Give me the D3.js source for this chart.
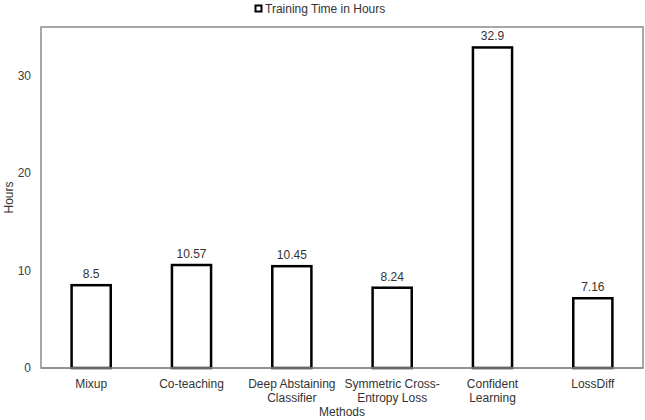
<!DOCTYPE html>
<html><head><meta charset="utf-8">
<script src="https://cdn.jsdelivr.net/npm/d3@7"></script>
<style>body{margin:0;background:#fff}svg{display:block}text{font-family:"Liberation Sans",Arial,sans-serif}</style>
</head><body>
<script>
const categories = [["Mixup"],["Co-teaching"],["Deep Abstaining","Classifier"],["Symmetric Cross-","Entropy Loss"],["Confident","Learning"],["LossDiff"]];
const values = [8.5, 10.57, 10.45, 8.24, 32.9, 7.16];
const valueLabels = ["8.5","10.57","10.45","8.24","32.9","7.16"];
const yTicks = [0, 10, 20, 30];
const seriesName = "Training Time in Hours";

const W = 645, H = 420;
const m = {left: 41, right: 2, top: 27, bottom: 52};
const svg = d3.select("body").append("svg").attr("width", W).attr("height", H);
const x = d3.scaleBand().domain(d3.range(categories.length)).range([m.left, W - m.right]).paddingInner(0.61).paddingOuter(0.305);
const y = d3.scaleLinear().domain([0, 35]).range([H - m.bottom, m.top]);

// frame
svg.append("rect").attr("x", m.left).attr("y", m.top).attr("width", W - m.right - m.left).attr("height", H - m.bottom - m.top)
  .attr("fill", "none").attr("stroke", "#8a8a8a").attr("stroke-width", 1.5);

// y axis
const ya = svg.append("g").attr("transform", `translate(${m.left},0)`)
  .call(d3.axisLeft(y).tickValues(yTicks).tickSize(0).tickPadding(10));
ya.select(".domain").remove();
ya.selectAll("text").attr("font-size", 12).attr("fill", "#404040").style("font-family", "Liberation Sans, Arial, sans-serif");

// bars
svg.selectAll(".bar").data(values).join("rect")
  .attr("x", (d, i) => x(i)).attr("width", x.bandwidth())
  .attr("y", d => y(d)).attr("height", d => y(0) - y(d))
  .attr("fill", "#fff").attr("stroke", "#000").attr("stroke-width", 2.5);

// value labels
svg.selectAll(".vl").data(values).join("text")
  .attr("x", (d, i) => x(i) + x.bandwidth() / 2).attr("y", d => y(d) - 7)
  .attr("text-anchor", "middle").attr("font-size", 12).attr("fill", "#333")
  .text((d, i) => valueLabels[i]);

// baseline
svg.append("line").attr("x1", m.left).attr("x2", W - m.right).attr("y1", y(0)).attr("y2", y(0))
  .attr("stroke", "#8a8a8a").attr("stroke-width", 1.5);

// category labels
categories.forEach((lines, i) => {
  const t = svg.append("text").attr("x", x(i) + x.bandwidth() / 2).attr("y", y(0) + 20)
    .attr("text-anchor", "middle").attr("font-size", 12).attr("fill", "#333");
  lines.forEach((l, j) => t.append("tspan").attr("x", x(i) + x.bandwidth() / 2).attr("dy", j ? 14 : 0).text(l));
});

// axis titles
svg.append("text").attr("x", (m.left + W - m.right) / 2).attr("y", 416).attr("text-anchor", "middle")
  .attr("font-size", 12).attr("fill", "#333").text("Methods");
svg.append("text").attr("transform", `translate(13,${(m.top + H - m.bottom) / 2}) rotate(-90)`).attr("text-anchor", "middle")
  .attr("font-size", 12).attr("fill", "#333").text("Hours");

// legend
svg.append("rect").attr("x", 255.5).attr("y", 5.5).attr("width", 6).attr("height", 6)
  .attr("fill", "#fff").attr("stroke", "#000").attr("stroke-width", 2);
svg.append("text").attr("x", 265).attr("y", 12.5).attr("font-size", 12).attr("fill", "#333").text(seriesName);
</script>
</body></html>
